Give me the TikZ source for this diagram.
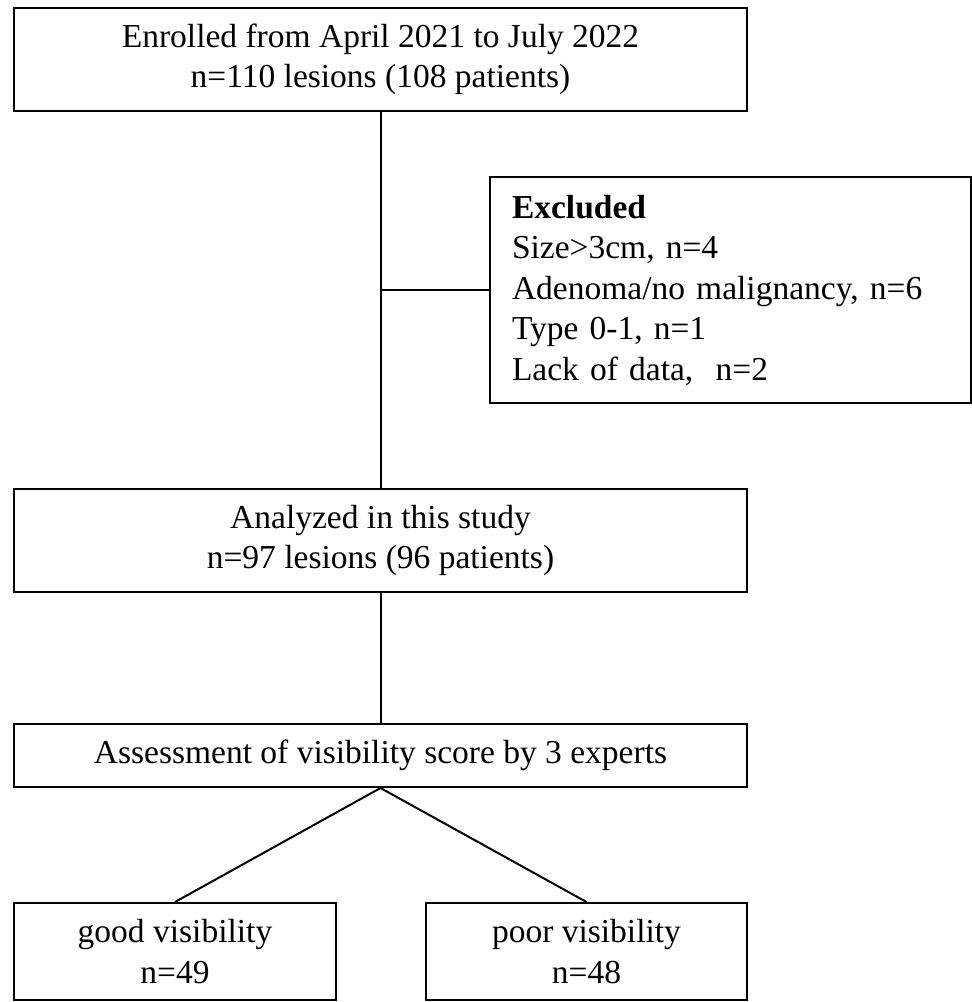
\documentclass[tikz,border=0pt]{standalone}
\usepackage{fontspec}
\setmainfont{Liberation Serif}

\begin{document}
\begin{tikzpicture}[x=1pt, y=-1pt,
    box/.style={draw, line width=2pt, align=center, inner sep=0pt,
        font=\fontsize{33.5}{40.5}\selectfont},
    link/.style={line width=2pt}]
\useasboundingbox (0,0) rectangle (972,1002);

% main column
\node[box, minimum width=733, minimum height=103] (enrolled) at (380.5,59.5)
    {Enrolled from April 2021 to July 2022\\ n=110 lesions (108 patients)};
\node[box, minimum width=733, minimum height=103] (analyzed) at (380.5,540.5)
    {Analyzed in this study\\ n=97 lesions (96 patients)};
\node[box, minimum width=733, minimum height=63] (assess) at (380.5,755.5)
    {Assessment of visibility score by 3 experts};

% exclusion box
\node[box, align=left, minimum width=481, minimum height=226, text width=437,
    inner xsep=22pt] (excluded) at (730.5,290)
    {\textbf{Excluded}\\ Size>3cm, n=4\\ Adenoma/no malignancy, n=6\\
     Type 0-1, n=1\\ Lack of data,~ n=2};

% outcome boxes
\node[box, minimum width=322, minimum height=97] (good) at (175,951.5)
    {good visibility\\ n=49};
\node[box, minimum width=321, minimum height=97] (poor) at (586.5,951.5)
    {poor visibility\\ n=48};

% connectors
\draw[link] (enrolled.south) -- (analyzed.north);
\draw[link] (excluded.west) -- (enrolled.south |- excluded.west);
\draw[link] (analyzed.south) -- (assess.north);
\draw[link] (assess.south) -- (good.north);
\draw[link] (assess.south) -- (poor.north);
\end{tikzpicture}
\end{document}
